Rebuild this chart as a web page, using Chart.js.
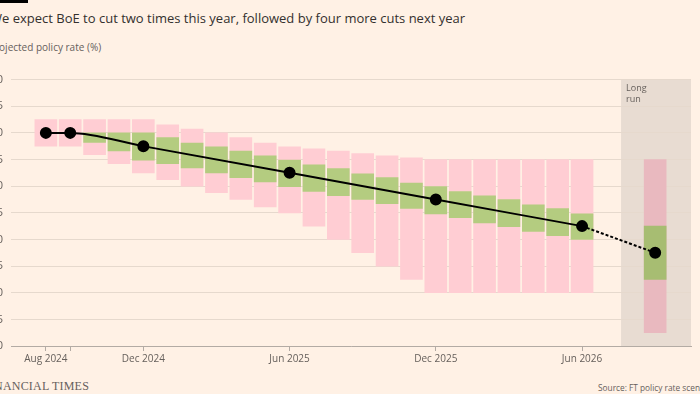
<!DOCTYPE html>
<html>
<head>
<meta charset="utf-8">
<script src="https://cdn.jsdelivr.net/npm/chart.js@4.4.1/dist/chart.umd.min.js"></script>
<style>
    html, body { margin: 0; padding: 0; }
    body {
        width: 700px; height: 394px; overflow: hidden; position: relative;
        background: #fff1e5; font-family: "Open Sans", "Noto Sans", sans-serif; color: #33302e;
    }
    .ft-bar { position: absolute; left: 0; top: 0; width: 28px; height: 3px; background: #000; }
    .title { position: absolute; left: -10px; top: 9px; font-size: 13px; white-space: nowrap; color: #33302e; }
    .subtitle { position: absolute; left: -11px; top: 40px; font-size: 10px; white-space: nowrap; color: #66605c; }
    .chart-box { position: absolute; left: -39px; top: 65px; width: 737px; height: 305px; }
    .brand { position: absolute; left: -17px; top: 379px; font-family: "Liberation Serif", "DejaVu Serif", serif; font-size: 12px; letter-spacing: 0.2px; color: #66605c; white-space: nowrap; }
    .source { position: absolute; left: 598px; top: 382px; font-size: 8.3px; color: #66605c; white-space: nowrap; }
</style>
</head>
<body>
<div class="ft-bar"></div>
<div class="title">We expect BoE to cut two times this year, followed by four more cuts next year</div>
<div class="subtitle">Projected policy rate (%)</div>
<div class="chart-box"><canvas id="rateChart"></canvas></div>
<div class="brand">FINANCIAL TIMES</div>
<div class="source">Source: FT policy rate scenarios</div>

<script>
// months, counted from Aug 2024 (= 0)
const MONTHS = ["Aug 2024", "Sep 2024", "Oct 2024", "Nov 2024", "Dec 2024", "Jan 2025", "Feb 2025",
    "Mar 2025", "Apr 2025", "May 2025", "Jun 2025", "Jul 2025", "Aug 2025", "Sep 2025", "Oct 2025",
    "Nov 2025", "Dec 2025", "Jan 2026", "Feb 2026", "Mar 2026", "Apr 2026", "May 2026", "Jun 2026"];

// wide range (pink)
const RANGE_HIGH = [5.25, 5.25, 5.25, 5.25, 5.25, 5.15, 5.07, 5.0, 4.91, 4.81, 4.74, 4.70, 4.66,
    4.61, 4.57, 4.53, 4.5, 4.5, 4.5, 4.5, 4.5, 4.5, 4.5];
const RANGE_LOW = [4.75, 4.75, 4.59, 4.42, 4.25, 4.12, 4.0, 3.88, 3.75, 3.61, 3.5, 3.25, 3.0,
    2.75, 2.5, 2.25, 2.0, 2.0, 2.0, 2.0, 2.0, 2.0, 2.0];

// central range (green)
const CORE_HIGH = [null, null, 5.0, 5.0, 5.0, 4.91, 4.81, 4.74, 4.66, 4.57, 4.49, 4.40, 4.33,
    4.23, 4.16, 4.06, 3.99, 3.90, 3.82, 3.75, 3.65, 3.58, 3.48];
const CORE_LOW = [null, null, 4.82, 4.66, 4.49, 4.42, 4.34, 4.25, 4.16, 4.08, 3.99, 3.90, 3.82,
    3.75, 3.67, 3.58, 3.48, 3.41, 3.31, 3.24, 3.15, 3.07, 3.0];

// central path with markers
const PATH_MONTHS = [0, 1, 4, 10, 16, 22];
const PATH_RATE = [5.0, 5.0, 4.75, 4.25, 3.75, 3.25];

// long run
const LONG_RUN_MONTH = 25;
const LONG_RUN_START = 23.6;
const LONG_RUN_RANGE = [1.25, 4.5];
const LONG_RUN_CORE = [2.25, 3.25];
const LONG_RUN_RATE = 2.75;

// axes
const TICK_MONTHS = [0, 1, 4, 10, 16, 22];
const TICK_LABELS = ["Aug 2024", "", "Dec 2024", "Jun 2025", "Dec 2025", "Jun 2026"];
const Y_TICKS = [1.0, 1.5, 2.0, 2.5, 3.0, 3.5, 4.0, 4.5, 5.0, 5.5, 6.0];

const PINK = "#ffcdd3";
const PINK_DARK = "#e9b9bf";
const GREEN = "#b4cc80";
const GREEN_DARK = "#a7bd72";

const rangeData = MONTHS.map((m, i) => ({ x: i, y: [RANGE_LOW[i], RANGE_HIGH[i]] }));
rangeData.push({ x: LONG_RUN_MONTH, y: LONG_RUN_RANGE });
const coreData = MONTHS.map((m, i) => ({ x: i, y: CORE_LOW[i] === null ? null : [CORE_LOW[i], CORE_HIGH[i]] }));
coreData.push({ x: LONG_RUN_MONTH, y: LONG_RUN_CORE });
const pathData = PATH_MONTHS.map((m, i) => ({ x: m, y: PATH_RATE[i] }));
const lastIdx = PATH_MONTHS.length - 1;

// shaded long run column
const longRunBand = {
    id: "longRunBand",
    beforeDraw(chart) {
        const { ctx, chartArea, scales } = chart;
        const x0 = scales.x.getPixelForValue(LONG_RUN_START);
        ctx.save();
        ctx.fillStyle = "#e8dcd2";
        ctx.fillRect(x0, chartArea.top, chartArea.right - x0, chartArea.bottom - chartArea.top);
        ctx.fillStyle = "#66605c";
        ctx.font = "9px 'Open Sans', sans-serif";
        ctx.textBaseline = "top";
        ctx.fillText("Long", x0 + 5, chartArea.top + 4);
        ctx.fillText("run", x0 + 5, chartArea.top + 15);
        ctx.restore();
    }
};

new Chart(document.getElementById("rateChart"), {
    type: "bar",
    data: {
        datasets: [
            {
                type: "line",
                data: pathData,
                borderColor: "#000",
                backgroundColor: "#000",
                borderWidth: 2,
                pointRadius: 5,
                pointHoverRadius: 5,
                cubicInterpolationMode: "monotone",
                order: 0
            },
            {
                type: "line",
                data: [{ x: PATH_MONTHS[lastIdx], y: PATH_RATE[lastIdx] }, { x: LONG_RUN_MONTH, y: LONG_RUN_RATE }],
                borderColor: "#000",
                backgroundColor: "#000",
                borderWidth: 2,
                borderDash: [3, 2],
                pointRadius: [0, 5],
                order: 0
            },
            {
                data: coreData,
                backgroundColor: (c) => c.raw && c.raw.x > LONG_RUN_START ? GREEN_DARK : GREEN,
                barThickness: 22,
                grouped: false,
                order: 1
            },
            {
                data: rangeData,
                backgroundColor: (c) => c.raw && c.raw.x > LONG_RUN_START ? PINK_DARK : PINK,
                barThickness: 22,
                grouped: false,
                order: 2
            }
        ]
    },
    options: {
        responsive: true,
        maintainAspectRatio: false,
        animation: false,
        layout: { padding: { top: 10, right: 4, bottom: 0, left: 0 } },
        plugins: { legend: { display: false }, tooltip: { enabled: false } },
        scales: {
            x: {
                type: "linear",
                offset: false,
                min: -1.43,
                max: 26.47,
                afterBuildTicks: (s) => { s.ticks = TICK_MONTHS.map(v => ({ value: v })); },
                afterFit: (s) => { s.height = 24; },
                ticks: {
                    autoSkip: false,
                    maxRotation: 0,
                    color: "#66605c",
                    font: { size: 10, family: "'Open Sans', sans-serif" },
                    padding: 2,
                    callback: (v) => TICK_LABELS[TICK_MONTHS.indexOf(v)]
                },
                grid: { offset: false, drawOnChartArea: false, drawTicks: true, tickLength: 5, color: "#b3aba4" },
                border: { color: "#b3aba4" }
            },
            y: {
                min: 1,
                max: 6,
                afterBuildTicks: (s) => { s.ticks = Y_TICKS.map(v => ({ value: v })); },
                afterFit: (s) => { s.width = 50; },
                ticks: {
                    color: "#66605c",
                    font: { size: 11, family: "'Open Sans', sans-serif" },
                    padding: 8,
                    callback: (v) => v.toFixed(1)
                },
                grid: { color: "#e6d9cd", drawTicks: false },
                border: { display: false }
            }
        }
    },
    plugins: [longRunBand]
});
</script>
</body>
</html>
